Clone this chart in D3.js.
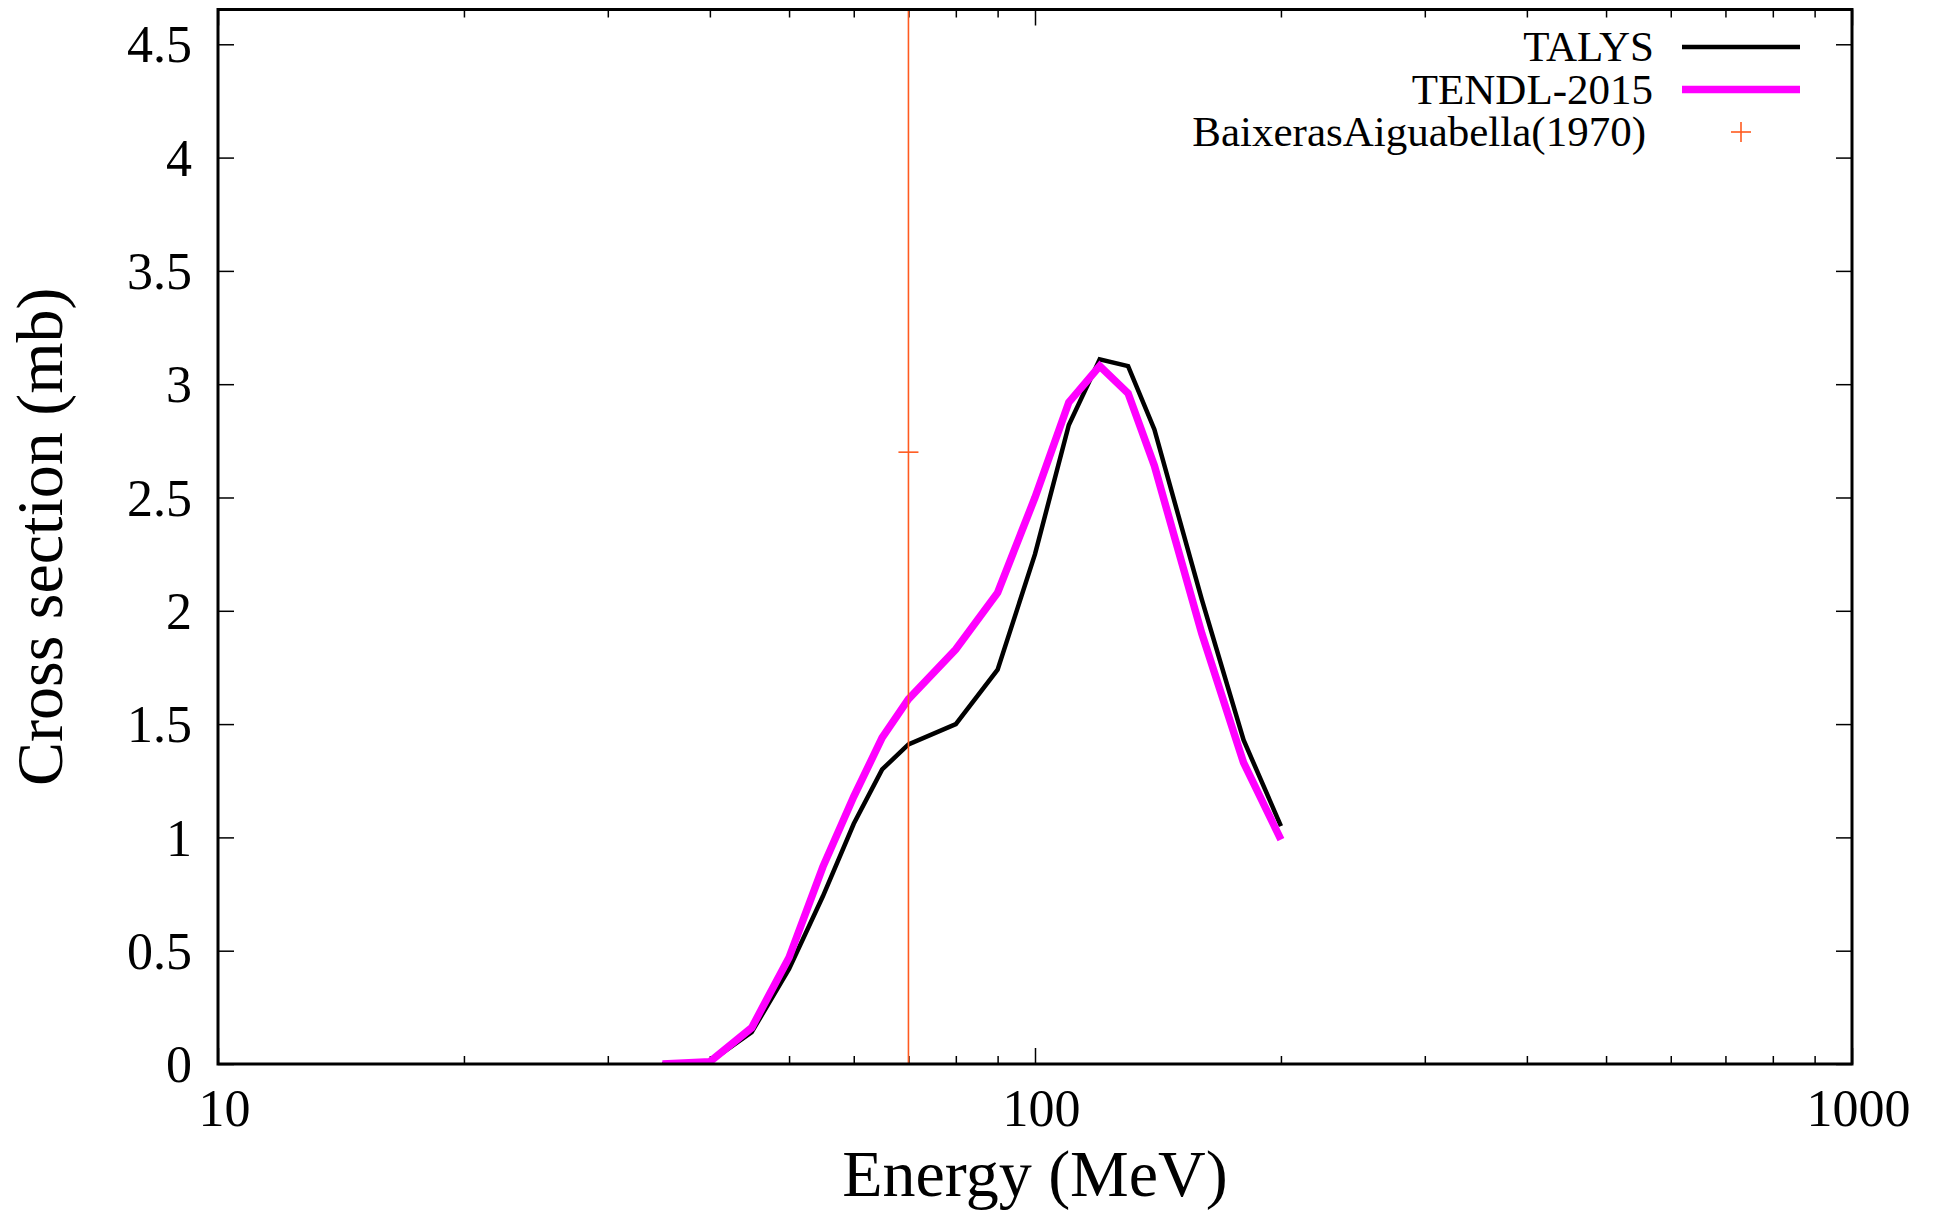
<!DOCTYPE html>
<html>
<head>
<meta charset="utf-8">
<script src="https://cdn.jsdelivr.net/npm/d3@7"></script>
<style>
  html, body { margin: 0; padding: 0; background: #fff; }
  svg { display: block; }
  text { font-family: "Liberation Serif", "Times New Roman", serif; fill: #000; }
</style>
</head>
<body>
<svg id="chart" width="1935" height="1210"></svg>
<script>
// ---- data ----
const energies = [35, 40, 45, 50, 55, 60, 65, 70, 80, 90, 100, 110, 120, 130, 140, 160, 180, 200];
const talys    = [0.0, 0.01, 0.14, 0.42, 0.74, 1.06, 1.30, 1.41, 1.50, 1.74, 2.25, 2.82, 3.11, 3.08, 2.80, 2.05, 1.43, 1.05];
const tendl    = [0.0, 0.01, 0.16, 0.47, 0.87, 1.18, 1.44, 1.61, 1.83, 2.08, 2.50, 2.92, 3.08, 2.96, 2.64, 1.90, 1.33, 0.99];
const expEnergy = [70];
const expValue  = [2.7];
const expError  = [2.7];
const yTicks = [0, 0.5, 1, 1.5, 2, 2.5, 3, 3.5, 4, 4.5];
const xMajorTicks = [10, 100, 1000];
const xMinorTicks = [20, 30, 40, 50, 60, 70, 80, 90, 200, 300, 400, 500, 600, 700, 800, 900];
const seriesNames = ["TALYS", "TENDL-2015", "BaixerasAiguabella(1970)"];
const xTitle = "Energy (MeV)";
const yTitle = "Cross section (mb)";

// ---- layout ----
const L = 218, R = 1852, T = 9.5, B = 1064;
const svg = d3.select("#chart");
const x = d3.scaleLog().domain([10, 1000]).range([L, R]);
const y = d3.scaleLinear().domain([0, 4.6535]).range([B, T]);

const tickFont = 52;
const majorLen = 16, minorLen = 8;

// clip
svg.append("defs").append("clipPath").attr("id", "clip")
  .append("rect").attr("x", L).attr("y", T).attr("width", R - L).attr("height", B - T);

function styleAxis(g) {
  g.select(".domain").remove();
  g.selectAll(".tick line").attr("stroke", "#000").attr("stroke-width", 1.5);
  g.selectAll(".tick text").style("font-family", '"Liberation Serif", serif').style("font-size", tickFont + "px").attr("fill", "#000");
}

// left axis
svg.append("g").attr("transform", `translate(${L},0)`)
  .call(d3.axisLeft(y).tickValues(yTicks).tickSize(-majorLen).tickPadding(26).tickFormat(d3.format("")))
  .call(styleAxis)
  .call(g => g.selectAll(".tick text").attr("dy", "0.34em"));
// right axis
svg.append("g").attr("transform", `translate(${R},0)`)
  .call(d3.axisRight(y).tickValues(yTicks).tickSize(-majorLen).tickFormat(""))
  .call(styleAxis);
// bottom axis major
svg.append("g").attr("transform", `translate(0,${B})`)
  .call(d3.axisBottom(x).tickValues(xMajorTicks).tickSize(-majorLen).tickPadding(25).tickFormat(d3.format("d")))
  .call(styleAxis)
  .call(g => g.selectAll(".tick text").attr("dx", 6));
// bottom minor
svg.append("g").attr("transform", `translate(0,${B})`)
  .call(d3.axisBottom(x).tickValues(xMinorTicks).tickSize(-minorLen).tickFormat(""))
  .call(styleAxis);
// top major/minor
svg.append("g").attr("transform", `translate(0,${T})`)
  .call(d3.axisTop(x).tickValues(xMajorTicks).tickSize(-majorLen).tickFormat(""))
  .call(styleAxis);
svg.append("g").attr("transform", `translate(0,${T})`)
  .call(d3.axisTop(x).tickValues(xMinorTicks).tickSize(-minorLen).tickFormat(""))
  .call(styleAxis);

// series
const talysData = energies.map((e, i) => [e, talys[i]]);
const tendlData = energies.map((e, i) => [e, tendl[i]]);
const line = d3.line().x(d => x(d[0])).y(d => y(d[1]));

const plot = svg.append("g").attr("clip-path", "url(#clip)");
plot.append("path").datum(talysData).attr("d", line)
  .attr("fill", "none").attr("stroke", "#000").attr("stroke-width", 4.5).attr("stroke-linejoin", "miter");
plot.append("path").datum(tendlData).attr("d", line)
  .attr("fill", "none").attr("stroke", "#ff00ff").attr("stroke-width", 7.5).attr("stroke-linejoin", "miter");

const orange = "#ff5a1f";
const exp = expEnergy.map((e, i) => ({ e, v: expValue[i], err: expError[i] }));
const expG = plot.append("g");
expG.selectAll("line.err").data(exp).enter().append("line")
  .attr("x1", d => x(d.e)).attr("x2", d => x(d.e))
  .attr("y1", d => y(d.v - d.err)).attr("y2", d => y(d.v + d.err))
  .attr("stroke", orange).attr("stroke-width", 1.6);
const cross = 10;
expG.selectAll("line.h").data(exp).enter().append("line")
  .attr("x1", d => x(d.e) - cross).attr("x2", d => x(d.e) + cross)
  .attr("y1", d => y(d.v)).attr("y2", d => y(d.v))
  .attr("stroke", orange).attr("stroke-width", 1.6);

// frame
svg.append("rect").attr("x", L).attr("y", T).attr("width", R - L).attr("height", B - T)
  .attr("fill", "none").attr("stroke", "#000").attr("stroke-width", 3);

// legend
const legFont = 43;
const legTextX = [1654, 1653, 1646];
const legBase = [61, 103.5, 146];
const legG = svg.append("g");
seriesNames.forEach((n, i) => {
  legG.append("text").attr("x", legTextX[i]).attr("y", legBase[i])
    .attr("text-anchor", "end").style("font-size", legFont + "px").text(n);
});
legG.append("line").attr("x1", 1682).attr("x2", 1800).attr("y1", legBase[0] - 14).attr("y2", legBase[0] - 14)
  .attr("stroke", "#000").attr("stroke-width", 4.5);
legG.append("line").attr("x1", 1682).attr("x2", 1800).attr("y1", legBase[1] - 14).attr("y2", legBase[1] - 14)
  .attr("stroke", "#ff00ff").attr("stroke-width", 7.5);
legG.append("line").attr("x1", 1741 - cross).attr("x2", 1741 + cross).attr("y1", legBase[2] - 14).attr("y2", legBase[2] - 14)
  .attr("stroke", orange).attr("stroke-width", 1.6);
legG.append("line").attr("x1", 1741).attr("x2", 1741).attr("y1", legBase[2] - 14 - cross).attr("y2", legBase[2] - 14 + cross)
  .attr("stroke", orange).attr("stroke-width", 1.6);

// axis titles
svg.append("text").attr("x", (L + R) / 2).attr("y", 1196).attr("text-anchor", "middle")
  .style("font-size", "66px").text(xTitle);
svg.append("text").attr("transform", `translate(62,${(T + B) / 2}) rotate(-90)`).attr("text-anchor", "middle")
  .style("font-size", "66px").text(yTitle);
</script>
</body>
</html>
